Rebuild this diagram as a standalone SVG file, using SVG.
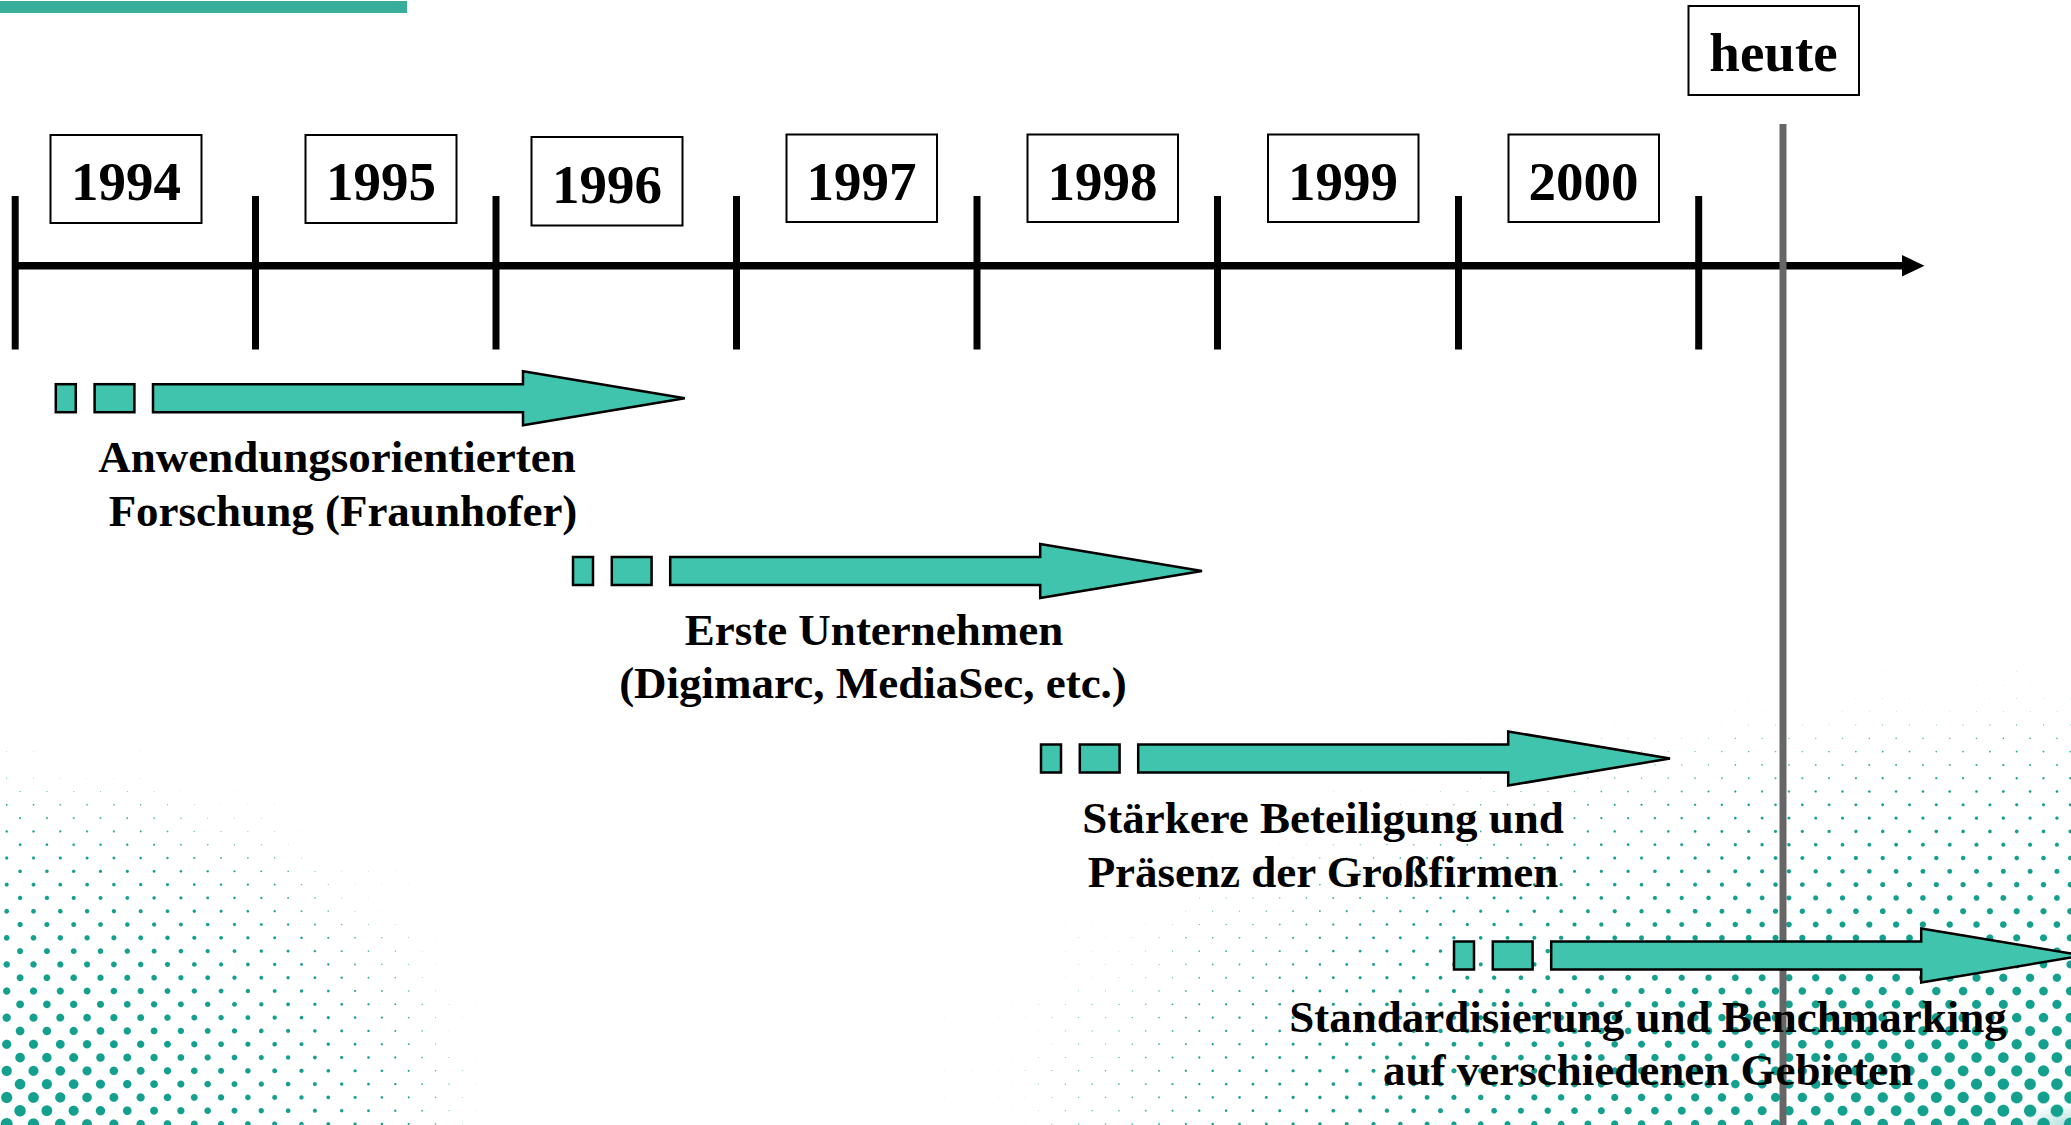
<svg xmlns="http://www.w3.org/2000/svg" xmlns:xlink="http://www.w3.org/1999/xlink" width="2071" height="1125" viewBox="0 0 2071 1125">
<style>
.box{fill:#fff;stroke:#000;stroke-width:2}
.yr{font-family:"Liberation Serif","Times New Roman",serif;font-weight:bold;font-size:55px;text-anchor:middle;fill:#000}
.lbl{font-family:"Liberation Serif","Times New Roman",serif;font-weight:bold;font-size:45px;text-anchor:middle;fill:#000}
.tick{stroke:#000;stroke-width:7}
.arr{fill:#40c4ad;stroke:#000;stroke-width:2.5;stroke-linejoin:miter}
</style>
<defs>
<radialGradient id="cone"><stop offset="0" stop-color="#fff"/><stop offset="1" stop-color="#000"/></radialGradient>
<pattern id="dots" patternUnits="userSpaceOnUse" x="0" y="718.35" width="26.8" height="26.6">
<rect width="26.8" height="26.6" fill="#000"/>
<circle cx="6.7" cy="6.65" r="6.6" fill="url(#cone)"/>
<circle cx="20.1" cy="19.95" r="6.6" fill="url(#cone)"/>
</pattern>
<radialGradient id="gl" gradientUnits="userSpaceOnUse" cx="0" cy="1125" r="565" gradientTransform="translate(0 1125) scale(1 0.75) translate(0 -1125)">
<stop offset="0" stop-color="#f2f2f2"/><stop offset="0.3" stop-color="#999"/><stop offset="0.6" stop-color="#4d4d4d"/><stop offset="0.85" stop-color="#141414"/><stop offset="1" stop-color="#000"/>
</radialGradient>
<radialGradient id="gr" gradientUnits="userSpaceOnUse" cx="2071" cy="1125" r="1250" gradientTransform="translate(2071 1125) scale(1 0.4) translate(-2071 -1125)">
<stop offset="0" stop-color="#fff"/><stop offset="0.3" stop-color="#a6a6a6"/><stop offset="0.6" stop-color="#4d4d4d"/><stop offset="0.85" stop-color="#141414"/><stop offset="1" stop-color="#000"/>
</radialGradient>
<filter id="halftone" filterUnits="userSpaceOnUse" x="0" y="0" width="2071" height="1125" color-interpolation-filters="sRGB">
<feColorMatrix type="matrix" values="0 0 0 0 0.075  0 0 0 0 0.627  0 0 0 0 0.557  13 0 0 0 -6.2"/>
</filter>
<path id="arrow" class="arr" d="M97.2,-14 H467.2 V-27 L629,0 L467.2,27 V14 H97.2 Z"/>
<rect id="sq1" class="arr" x="0" y="-14" width="20" height="28"/>
<rect id="sq2" class="arr" x="38.8" y="-14" width="39.8" height="28"/>
</defs>
<rect width="2071" height="1125" fill="#fff"/>
<g id="background-dots" filter="url(#halftone)">
<rect x="0" y="600" width="2071" height="525" fill="url(#dots)"/>
<rect x="0" y="600" width="700" height="525" fill="url(#gl)" fill-opacity="0.5"/>
<rect x="700" y="600" width="1371" height="525" fill="url(#gr)" fill-opacity="0.5"/>
</g>
<rect id="top-bar" x="0" y="1" width="407" height="12" fill="#38ad99"/>
<g id="connectors">
<line x1="12" y1="265.7" x2="1904" y2="265.7" stroke="#000" stroke-width="7.5"/>
<polygon points="1902,255 1924.5,265.7 1902,276.5" fill="#000"/>
<line class="tick" x1="15.2" y1="196" x2="15.2" y2="349.5"/>
<line class="tick" x1="255.5" y1="196" x2="255.5" y2="349.5"/>
<line class="tick" x1="496" y1="196" x2="496" y2="349.5"/>
<line class="tick" x1="736.5" y1="196" x2="736.5" y2="349.5"/>
<line class="tick" x1="977" y1="196" x2="977" y2="349.5"/>
<line class="tick" x1="1217.5" y1="196" x2="1217.5" y2="349.5"/>
<line class="tick" x1="1458.5" y1="196" x2="1458.5" y2="349.5"/>
<line class="tick" x1="1698.7" y1="196" x2="1698.7" y2="349.5"/>
<line x1="1783" y1="124" x2="1783" y2="1125" stroke="#666" stroke-width="7"/>
</g>
<g id="y1994"><rect class="box" x="50.5" y="135" width="151" height="88"/><text class="yr" x="126" y="200">1994</text></g>
<g id="y1995"><rect class="box" x="305.5" y="135" width="151" height="88"/><text class="yr" x="381" y="200">1995</text></g>
<g id="y1996"><rect class="box" x="531.5" y="137" width="151" height="88.5"/><text class="yr" x="607" y="202.5">1996</text></g>
<g id="y1997"><rect class="box" x="786.5" y="134.5" width="150.5" height="87.5"/><text class="yr" x="861.5" y="200">1997</text></g>
<g id="y1998"><rect class="box" x="1027.5" y="134.5" width="150.5" height="87.5"/><text class="yr" x="1102.5" y="200">1998</text></g>
<g id="y1999"><rect class="box" x="1268" y="134.5" width="150.5" height="87.5"/><text class="yr" x="1343" y="200">1999</text></g>
<g id="y2000"><rect class="box" x="1508.5" y="134.5" width="150.5" height="87.5"/><text class="yr" x="1583.5" y="200">2000</text></g>
<g id="heute"><rect class="box" x="1688.5" y="6" width="170.5" height="89"/><text class="yr" x="1773.5" y="71">heute</text></g>
<g id="phase1" transform="translate(55.8 398.2)"><use xlink:href="#sq1"/><use xlink:href="#sq2"/><use xlink:href="#arrow"/></g>
<g id="phase1-label"><text class="lbl" x="337" y="471.7">Anwendungsorientierten</text><text class="lbl" x="343" y="525.5">Forschung (Fraunhofer)</text></g>
<g id="phase2" transform="translate(573 571)"><use xlink:href="#sq1"/><use xlink:href="#sq2"/><use xlink:href="#arrow"/></g>
<g id="phase2-label"><text class="lbl" x="874" y="645">Erste Unternehmen</text><text class="lbl" x="873" y="698">(Digimarc, MediaSec, etc.)</text></g>
<g id="phase3" transform="translate(1041 758.5)"><use xlink:href="#sq1"/><use xlink:href="#sq2"/><use xlink:href="#arrow"/></g>
<g id="phase3-label"><text class="lbl" x="1323" y="833.3">Stärkere Beteiligung und</text><text class="lbl" x="1323" y="886.7">Präsenz der Großfirmen</text></g>
<g id="phase4" transform="translate(1454 955.5)"><use xlink:href="#sq1"/><use xlink:href="#sq2"/><use xlink:href="#arrow"/></g>
<g id="phase4-label"><text class="lbl" x="1648" y="1031.7">Standardisierung und Benchmarking</text><text class="lbl" x="1648" y="1085">auf verschiedenen Gebieten</text></g>
</svg>
